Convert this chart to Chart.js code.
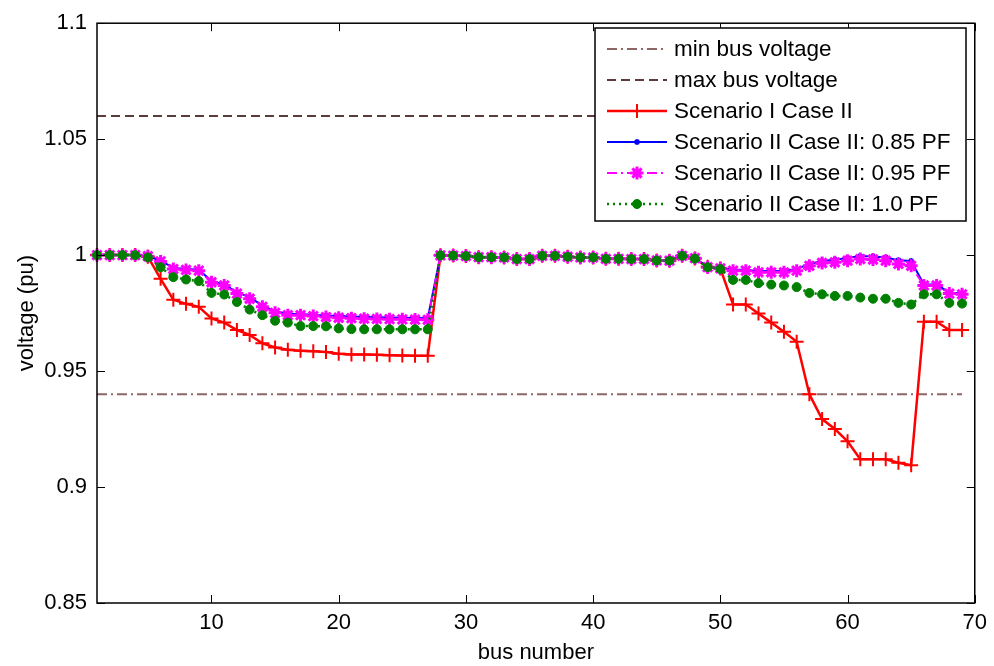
<!DOCTYPE html>
<html lang="en">
  <head>
    <meta charset="UTF-8" />
    <title>Bus voltage profile</title>
    <script src="https://cdn.jsdelivr.net/npm/chart.js@4.4.0/dist/chart.umd.min.js"></script>
    <style>
      html, body { margin: 0; padding: 0; background: #fff; }
      canvas { display: block; }
    </style>
  </head>
  <body>
    <canvas id="voltChart" width="994" height="666"></canvas>

    <script>
      // bus numbers 1..69
      const buses = [
        1, 2, 3, 4, 5, 6, 7, 8, 9, 10, 11, 12, 13, 14, 15, 16, 17, 18, 19, 20,
        21, 22, 23, 24, 25, 26, 27, 28, 29, 30, 31, 32, 33, 34, 35, 36, 37, 38, 39, 40,
        41, 42, 43, 44, 45, 46, 47, 48, 49, 50, 51, 52, 53, 54, 55, 56, 57, 58, 59, 60,
        61, 62, 63, 64, 65, 66, 67, 68, 69
      ];

      // voltage limits (pu)
      const minVoltage = 0.94;
      const maxVoltage = 1.06;
      const limitSpan = [1, 69];

      // Scenario I Case II
      const scen1Case2 = [
        1.0, 1.0, 1.0, 1.0, 0.9993, 0.9898, 0.9808, 0.979, 0.9777, 0.9727,
        0.9709, 0.9677, 0.9656, 0.962, 0.9602, 0.9592, 0.9588, 0.9585, 0.9582, 0.9575,
        0.9572, 0.9571, 0.957, 0.9568, 0.9567, 0.9566, 0.9566, 0.9999, 0.9998, 0.9996,
        0.9991, 0.9991, 0.999, 0.9983, 0.9983, 0.9997, 0.9997, 0.9993, 0.999, 0.999,
        0.9984, 0.9984, 0.9983, 0.9983, 0.9977, 0.9976, 0.9997, 0.9985, 0.995, 0.9942,
        0.9787, 0.9787, 0.9748, 0.9709, 0.967, 0.9627, 0.94, 0.9293, 0.925, 0.9197,
        0.912, 0.912, 0.912, 0.9105, 0.9094, 0.9713, 0.9713, 0.9677, 0.9677
      ];

      // Scenario II Case II at 0.85 power factor
      const scen2Pf085 = [
        1.0, 1.0, 1.0, 1.0, 0.9996, 0.9976, 0.9945, 0.994, 0.9937, 0.9888,
        0.9874, 0.984, 0.9818, 0.9783, 0.9757, 0.9747, 0.9746, 0.9742, 0.974, 0.9737,
        0.9735, 0.9733, 0.9732, 0.9731, 0.973, 0.9729, 0.9728, 0.9999, 0.9998, 0.9996,
        0.9991, 0.9991, 0.999, 0.9983, 0.9983, 0.9997, 0.9997, 0.9993, 0.999, 0.999,
        0.9984, 0.9984, 0.9983, 0.9983, 0.9977, 0.9976, 0.9997, 0.9987, 0.995, 0.9945,
        0.9937, 0.9937, 0.9931, 0.9932, 0.9933, 0.994, 0.9962, 0.9975, 0.998, 0.9988,
        0.9996, 0.9994, 0.999, 0.9978, 0.9975, 0.9873, 0.9873, 0.9838, 0.9835
      ];

      // Scenario II Case II at 0.95 power factor
      const scen2Pf095 = [
        1.0, 1.0, 1.0, 1.0, 0.9995, 0.9973, 0.994, 0.9936, 0.9933, 0.9883,
        0.9869, 0.9834, 0.9812, 0.9777, 0.9751, 0.9741, 0.9741, 0.9737, 0.9733, 0.973,
        0.9728, 0.9726, 0.9725, 0.9724, 0.9723, 0.9722, 0.9721, 0.9999, 0.9998, 0.9996,
        0.9991, 0.9991, 0.999, 0.9983, 0.9983, 0.9997, 0.9997, 0.9993, 0.999, 0.999,
        0.9984, 0.9984, 0.9983, 0.9983, 0.9977, 0.9976, 0.9997, 0.9987, 0.9948, 0.9943,
        0.9933, 0.9933, 0.9926, 0.9926, 0.9926, 0.9933, 0.9954, 0.9966, 0.9969, 0.9976,
        0.9983, 0.9981, 0.9976, 0.9962, 0.9954, 0.9869, 0.9869, 0.9834, 0.9831
      ];

      // Scenario II Case II at unity power factor
      const scen2Pf100 = [
        1.0, 1.0, 1.0, 1.0, 0.999, 0.9948, 0.9905, 0.9895, 0.9888, 0.9837,
        0.983, 0.9798, 0.9765, 0.9741, 0.9717, 0.9709, 0.9694, 0.9694, 0.9693, 0.9684,
        0.9681, 0.968, 0.968, 0.968, 0.968, 0.968, 0.968, 0.9999, 0.9998, 0.9996,
        0.9991, 0.9991, 0.999, 0.9983, 0.9983, 0.9997, 0.9997, 0.9993, 0.999, 0.999,
        0.9984, 0.9984, 0.9983, 0.9983, 0.9977, 0.9976, 0.9997, 0.9985, 0.9948, 0.994,
        0.9893, 0.9893, 0.9879, 0.9873, 0.9869, 0.9862, 0.9837, 0.9831, 0.9824, 0.9824,
        0.9817, 0.9812, 0.9812, 0.9794, 0.9787, 0.9831, 0.9831, 0.9794, 0.9791
      ];

      const xTicks = [10, 20, 30, 40, 50, 60, 70];
      const yTicks = [0.85, 0.9, 0.95, 1.0, 1.05, 1.1];

      const FONT = "'Liberation Sans', Arial, sans-serif";

      const toPoints = (vals) => vals.map((v, i) => ({ x: buses[i], y: v }));
      const limitLine = (v) => limitSpan.map((b) => ({ x: b, y: v }));

      // MATLAB style box with inward ticks on all four sides
      const boxPlugin = {
        id: "box",
        afterDraw(chart) {
          const { ctx, chartArea: a, scales } = chart;
          const tl = 8;
          ctx.save();
          ctx.strokeStyle = "#000";
          ctx.lineWidth = 1.5;
          ctx.strokeRect(a.left, a.top, a.right - a.left, a.bottom - a.top);
          ctx.lineWidth = 1;
          ctx.beginPath();
          xTicks.forEach((t) => {
            const x = Math.round(scales.x.getPixelForValue(t)) + 0.5;
            ctx.moveTo(x, a.bottom);
            ctx.lineTo(x, a.bottom - tl);
            ctx.moveTo(x, a.top);
            ctx.lineTo(x, a.top + tl);
          });
          yTicks.forEach((t) => {
            const y = Math.round(scales.y.getPixelForValue(t)) + 0.5;
            ctx.moveTo(a.left, y);
            ctx.lineTo(a.left + tl, y);
            ctx.moveTo(a.right, y);
            ctx.lineTo(a.right - tl, y);
          });
          ctx.stroke();
          ctx.restore();
        },
      };

      // plain marker shapes for the legend samples
      function drawMarker(ctx, style, r, x, y) {
        ctx.beginPath();
        if (style === "circle") {
          ctx.arc(x, y, r, 0, Math.PI * 2);
          ctx.fill();
          ctx.stroke();
          return;
        }
        ctx.moveTo(x - r, y);
        ctx.lineTo(x + r, y);
        ctx.moveTo(x, y - r);
        ctx.lineTo(x, y + r);
        if (style === "star") {
          const d = r * Math.SQRT1_2;
          ctx.moveTo(x - d, y - d);
          ctx.lineTo(x + d, y + d);
          ctx.moveTo(x - d, y + d);
          ctx.lineTo(x + d, y - d);
        }
        ctx.stroke();
      }

      // legend box drawn inside the axes (top right)
      const legendPlugin = {
        id: "boxLegend",
        afterDraw(chart) {
          const ctx = chart.ctx;
          const left = 595, top = 28, right = 966, bottom = 221;
          const rowH = 31, firstRow = 49;
          ctx.save();
          ctx.fillStyle = "#fff";
          ctx.fillRect(left, top, right - left, bottom - top);
          ctx.strokeStyle = "#000";
          ctx.lineWidth = 1.5;
          ctx.strokeRect(left, top, right - left, bottom - top);

          chart.data.datasets.forEach((ds, i) => {
            const y = firstRow + i * rowH;
            ctx.save();
            ctx.strokeStyle = ds.borderColor;
            ctx.lineWidth = ds.borderWidth;
            ctx.setLineDash(ds.borderDash || []);
            ctx.beginPath();
            ctx.moveTo(607, y);
            ctx.lineTo(667, y);
            ctx.stroke();
            ctx.restore();
            if (ds.pointRadius > 0) {
              ctx.save();
              ctx.strokeStyle = ds.pointBorderColor;
              ctx.fillStyle = ds.pointBackgroundColor;
              ctx.lineWidth = ds.pointBorderWidth;
              drawMarker(ctx, ds.pointStyle, ds.pointRadius, 637, y);
              ctx.restore();
            }
            ctx.fillStyle = "#000";
            ctx.font = "22.5px " + FONT;
            ctx.textBaseline = "middle";
            ctx.fillText(ds.label, 674, y + 1);
          });
          ctx.restore();
        },
      };

      const ctx = document.getElementById("voltChart").getContext("2d");
      const voltChart = new Chart(ctx, {
        type: "line",
        data: {
          datasets: [
            {
              label: "min bus voltage",
              data: limitLine(minVoltage),
              borderColor: "#8c6565",
              borderWidth: 2,
              borderDash: [10, 4, 2, 4],
              pointRadius: 0,
              order: 5,
            },
            {
              label: "max bus voltage",
              data: limitLine(maxVoltage),
              borderColor: "#5b3b3b",
              borderWidth: 2,
              borderDash: [9, 5],
              pointRadius: 0,
              order: 4,
            },
            {
              label: "Scenario I Case II",
              data: toPoints(scen1Case2),
              borderColor: "#ff0000",
              borderWidth: 2.5,
              pointStyle: "cross",
              pointRadius: 7,
              pointBorderWidth: 2,
              pointBorderColor: "#ff0000",
              pointBackgroundColor: "#ff0000",
              order: 3,
            },
            {
              label: "Scenario II Case II: 0.85 PF",
              data: toPoints(scen2Pf085),
              borderColor: "#0000ff",
              borderWidth: 2,
              pointStyle: "star",
              pointRadius: 3,
              pointBorderWidth: 1.5,
              pointBorderColor: "#0000ff",
              pointBackgroundColor: "#0000ff",
              order: 2,
            },
            {
              label: "Scenario II Case II: 0.95 PF",
              data: toPoints(scen2Pf095),
              borderColor: "#ff00ff",
              borderWidth: 2,
              borderDash: [10, 4, 2, 4],
              pointStyle: "star",
              pointRadius: 6.5,
              pointBorderWidth: 3,
              pointBorderColor: "#ff00ff",
              pointBackgroundColor: "#ff00ff",
              order: 1,
            },
            {
              label: "Scenario II Case II: 1.0 PF",
              data: toPoints(scen2Pf100),
              borderColor: "#008000",
              borderWidth: 2.5,
              borderDash: [2, 4],
              pointStyle: "circle",
              pointRadius: 4.5,
              pointBorderWidth: 1,
              pointBorderColor: "#008000",
              pointBackgroundColor: "#008000",
              order: 0,
            },
          ],
        },
        options: {
          responsive: false,
          animation: false,
          devicePixelRatio: 1,
          layout: { padding: { top: 17, right: 19, left: 0, bottom: 0 } },
          elements: { line: { tension: 0 } },
          datasets: { line: { clip: false } },
          plugins: {
            legend: { display: false },
            tooltip: { enabled: false },
          },
          scales: {
            x: {
              type: "linear",
              min: 1,
              max: 70,
              grid: { display: false, drawTicks: false },
              border: { display: false },
              afterBuildTicks: (s) => { s.ticks = xTicks.map((v) => ({ value: v })); },
              afterFit: (s) => { s.height = 63; },
              ticks: {
                padding: 7,
                color: "#000",
                font: { family: FONT, size: 22 },
                callback: (v) => String(v),
              },
              title: {
                display: true,
                text: "bus number",
                color: "#000",
                font: { family: FONT, size: 22 },
                padding: { top: 0, bottom: 0 },
              },
            },
            y: {
              min: 0.85,
              max: 1.1,
              grid: { display: false, drawTicks: false },
              border: { display: false },
              afterBuildTicks: (s) => { s.ticks = yTicks.map((v) => ({ value: v })); },
              afterFit: (s) => { s.width = 97; },
              ticks: {
                padding: 10,
                color: "#000",
                font: { family: FONT, size: 22 },
                callback: (v) => String(Number(v.toFixed(2))),
              },
              title: {
                display: true,
                text: "voltage (pu)",
                color: "#000",
                font: { family: FONT, size: 22 },
                padding: { top: 14, bottom: 0 },
              },
            },
          },
        },
        plugins: [boxPlugin, legendPlugin],
      });
    </script>
  </body>
</html>
